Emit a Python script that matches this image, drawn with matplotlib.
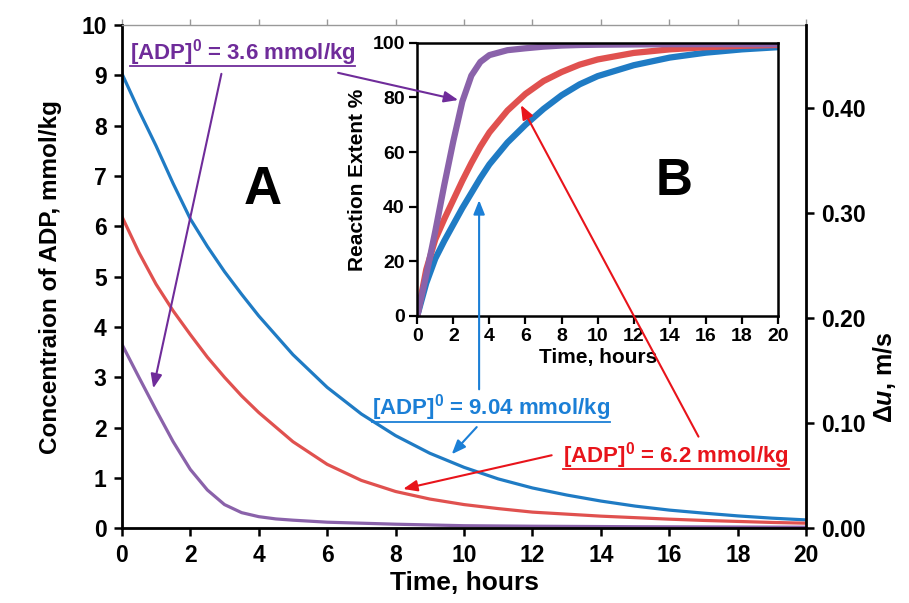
import numpy as np
import matplotlib
matplotlib.use("Agg")
from matplotlib import pyplot as plt
from matplotlib.lines import Line2D

plt.rcParams['font.family'] = ['Liberation Sans', 'DejaVu Sans']
plt.rcParams['font.weight'] = 'bold'
plt.rcParams['mathtext.fontset'] = 'custom'
plt.rcParams['mathtext.rm'] = 'Liberation Sans:bold'
plt.rcParams['mathtext.bf'] = 'Liberation Sans:bold'
plt.rcParams['mathtext.it'] = 'Liberation Sans:bold:italic'

# main panel A: ADP concentration, mmol/kg
t_hi = [0, 0.5, 1, 1.5, 2, 2.5, 3, 3.5, 4, 5, 6, 7, 8, 9, 10, 11, 12, 13, 14, 15, 16, 17, 18, 19, 20]
adp_904 = [9.04, 8.3, 7.6, 6.85, 6.15, 5.6, 5.1, 4.65, 4.22, 3.45, 2.8, 2.27, 1.84, 1.49, 1.21, 0.98,
           0.8, 0.66, 0.54, 0.44, 0.36, 0.3, 0.245, 0.2, 0.165]
adp_62 = [6.2, 5.48, 4.85, 4.32, 3.85, 3.4, 3.0, 2.63, 2.3, 1.72, 1.27, 0.95, 0.73, 0.58, 0.47, 0.39,
          0.32, 0.28, 0.24, 0.21, 0.18, 0.155, 0.135, 0.115, 0.1]
t_lo = [0, 0.5, 1, 1.5, 2, 2.5, 3, 3.5, 4, 4.5, 5, 6, 7, 8, 10, 12, 15, 20]
adp_36 = [3.66, 3.0, 2.35, 1.72, 1.17, 0.76, 0.47, 0.31, 0.23, 0.185, 0.16, 0.12, 0.1, 0.08, 0.05, 0.04,
          0.03, 0.02]

# inset B: reaction extent, %
tb = [0, 0.5, 1, 1.5, 2, 2.5, 3, 3.5, 4, 5, 6, 7, 8, 9, 10, 12, 14, 16, 18, 20]
ext_904 = [0, 12, 21, 27.5, 33.5, 39.5, 45, 50.5, 55.5, 63.5, 70, 75.8, 80.8, 84.8, 87.8, 91.8, 94.6,
           96.4, 97.6, 98.4]
ext_62 = [0, 17, 28, 35.5, 42.5, 49.5, 56, 62, 67.2, 75.2, 81.3, 86, 89.3, 92, 93.9, 96.3, 97.6, 98.4,
          98.9, 99.2]
ext_36 = [0, 15, 31, 48, 64, 78.5, 88, 93, 95.5, 97.3, 98, 98.6, 99, 99.2, 99.3, 99.4, 99.5, 99.5, 99.5,
          99.5]

c_blue = '#1f7bc4'
c_red = '#e0514f'
c_purple = '#8a62aa'
a_purple = '#6f2c9a'
a_blue = '#1b7fd6'
a_red = '#e8141b'

fig = plt.figure(figsize=(9.09, 6.03), dpi=100)
ax = fig.add_axes([0.134, 0.124, 0.753, 0.8345])
ax.plot(t_hi, adp_904, color=c_blue, lw=2.3)
ax.plot(t_hi, adp_62, color=c_red, lw=2.3)
ax.plot(t_lo, adp_36, color=c_purple, lw=2.3)
ax.set_xlim(0, 20)
ax.set_ylim(0, 10)
ax.set_xticks(range(0, 21, 2))
ax.set_yticks(range(0, 11))
ax.tick_params(direction='out', length=6, width=1.8, labelsize=16.5, pad=5)
for s in ['left', 'bottom']:
    ax.spines[s].set_linewidth(2)
ax.spines['top'].set_color('#999999')
ax.spines['top'].set_linewidth(1)
ax.spines['right'].set_visible(False)
ax.set_xlabel('Time, hours', fontsize=19, fontweight='bold', labelpad=3)
ax.set_ylabel('Concentraion of ADP, mmol/kg', fontsize=17.5, fontweight='bold', labelpad=14)

top = ax.secondary_xaxis('top')
top.set_xticks(range(0, 21, 2))
top.set_xticklabels([])
top.tick_params(direction='out', length=4, width=1, color='#999999')
top.spines['top'].set_visible(False)

ax2 = ax.twinx()
ax2.set_ylim(0, 0.479)
ax2.set_yticks([0, 0.1, 0.2, 0.3, 0.4])
ax2.set_yticklabels(['0.00', '0.10', '0.20', '0.30', '0.40'])
ax2.tick_params(direction='out', length=6, width=1.8, labelsize=16.5, pad=5)
for s in ['top', 'left', 'bottom']:
    ax2.spines[s].set_visible(False)
ax2.spines['right'].set_linewidth(2)
ax2.set_ylabel(r'Δ$\mathit{u}$, m/s', fontsize=18, fontweight='bold')
ax2.yaxis.set_label_coords(1.095, 0.30)

ax.text(4.12, 6.72, 'A', fontsize=38, fontweight='bold', ha='center', va='center')

# inset
axi = fig.add_axes([0.459, 0.476, 0.397, 0.453])
axi.plot(tb, ext_904, color=c_blue, lw=4.5)
axi.plot(tb, ext_62, color=c_red, lw=4.5)
axi.plot(tb, ext_36, color=c_purple, lw=4.5)
axi.set_xlim(0, 20)
axi.set_ylim(0, 100)
axi.set_xticks(range(0, 21, 2))
axi.set_yticks(range(0, 101, 20))
axi.tick_params(direction='out', length=6, width=1.6, labelsize=14, pad=3)
for s in axi.spines.values():
    s.set_linewidth(1.8)
axi.set_xlabel('Time, hours', fontsize=15, fontweight='bold', labelpad=2)
axi.set_ylabel('Reaction Extent %', fontsize=15, fontweight='bold', labelpad=4)
axi.text(14.24, 49.2, 'B', fontsize=37, fontweight='bold', ha='center', va='center')

# arrows (main data coordinates), drawn on top of the inset
arrows = [
    ((2.91, 9.03), (0.92, 2.78), a_purple),
    ((6.32, 9.05), (9.83, 8.51), a_purple),
    ((10.44, 2.76), (10.44, 6.52), a_blue),
    ((10.37, 2.01), (9.64, 1.47), a_blue),
    ((16.85, 1.82), (11.66, 8.41), a_red),
    ((12.56, 1.45), (8.22, 0.78), a_red),
]
for start, tip, col in arrows:
    axi.annotate('', xy=tip, xytext=start, xycoords=ax.transData, textcoords=ax.transData,
                 annotation_clip=False,
                 arrowprops=dict(arrowstyle='-|>,head_length=0.7,head_width=0.28', color=col,
                                 lw=1.5, mutation_scale=12, shrinkA=0, shrinkB=0))

labels = [
    (0.23, 9.46, '[ADP]$^{0}$ = 3.6 mmol/kg', a_purple),
    (7.31, 2.39, '[ADP]$^{0}$ = 9.04 mmol/kg', a_blue),
    (12.9, 1.45, '[ADP]$^{0}$ = 6.2 mmol/kg', a_red),
]
texts = []
for x, y, s, col in labels:
    txt = axi.text(x, y, s, transform=ax.transData, color=col, fontsize=16, fontweight='bold',
                   ha='left', va='center', clip_on=False)
    texts.append((txt, col))

fig.canvas.draw()
r = fig.canvas.get_renderer()
H = fig.bbox.height
W = fig.bbox.width
for txt, col in texts:
    bb = txt.get_window_extent(r)
    yline = bb.y0 + 1.5
    fig.add_artist(Line2D([bb.x0 / W, bb.x1 / W], [yline / H, yline / H],
                          transform=fig.transFigure, color=col, lw=1.3))

fig.savefig('out.png', dpi=100)
